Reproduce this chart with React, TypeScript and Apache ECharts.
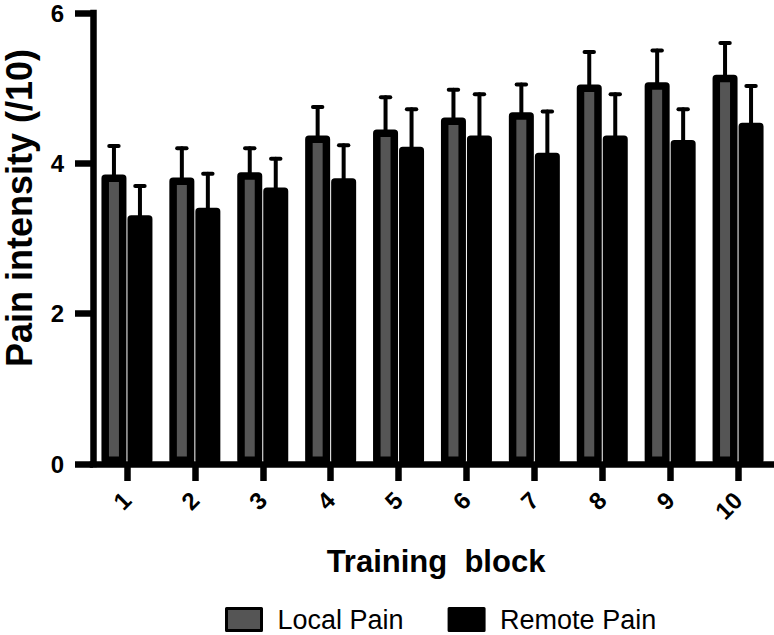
import React, { useEffect, useRef } from "react";
import * as echarts from "echarts";

const categories = ["1", "2", "3", "4", "5", "6", "7", "8", "9", "10"];
const localMean = [3.85, 3.81, 3.88, 4.37, 4.45, 4.61, 4.68, 5.05, 5.08, 5.18];
const localErr = [0.38, 0.39, 0.32, 0.38, 0.43, 0.37, 0.37, 0.43, 0.42, 0.42];
const remoteMean = [3.31, 3.41, 3.68, 3.8, 4.22, 4.37, 4.14, 4.37, 4.31, 4.54];
const remoteErr = [0.39, 0.45, 0.38, 0.44, 0.5, 0.55, 0.55, 0.55, 0.41, 0.49];
const yTicks = { min: 0, max: 6, interval: 2 };
const seriesNames = ["Local Pain", "Remote Pain"];

const FONT = "'Liberation Sans', Arial, Helvetica, sans-serif";
const BAR_W = 25;
const BORDER = 7.5;
const GAP_PX = 1;
const OFFSET = (BAR_W + GAP_PX) / 2;

function errSeries(means: number[], errs: number[], dir: number) {
  return {
    type: "custom",
    z: 5,
    silent: true,
    data: means.map((m, i) => [i, m, m + errs[i]]),
    encode: { x: 0, y: [1, 2] },
    renderItem: (params: any, api: any) => {
      const i = api.value(0);
      const base = api.coord([i, api.value(1)]);
      const top = api.coord([i, api.value(2)]);
      const x = base[0] + dir * OFFSET;
      const st = { stroke: "#000", lineWidth: 4, lineCap: "round" };
      return {
        type: "group",
        children: [
          { type: "line", shape: { x1: x, y1: base[1], x2: x, y2: top[1] }, style: st },
          { type: "line", shape: { x1: x - 4.7, y1: top[1], x2: x + 4.7, y2: top[1] }, style: st },
        ],
      };
    },
  };
}

export default function App() {
  const ref = useRef<HTMLDivElement>(null);
  useEffect(() => {
    if (!ref.current) return;
    const chart = echarts.init(ref.current, undefined, { renderer: "svg" });
    const axisLine = { show: true, lineStyle: { color: "#000", width: 6.5, cap: "square" } };
    chart.setOption({
      animation: false,
      backgroundColor: "#fff",
      grid: { left: 93, right: 2, top: 13, bottom: 171, containLabel: false },
      legend: {
        data: seriesNames,
        left: 225,
        top: 606,
        padding: 0,
        itemWidth: 35,
        itemHeight: 22,
        itemGap: 44,
        icon: "rect",
        itemStyle: { borderWidth: 3, borderColor: "#000" },
        textStyle: { fontFamily: FONT, fontSize: 27, color: "#000", padding: [0, 0, 0, 11] },
      },
      xAxis: {
        type: "category",
        data: categories,
        axisLine,
        axisTick: { show: true, alignWithLabel: true, length: 17, lineStyle: { color: "#000", width: 6.5 } },
        axisLabel: { rotate: 45, margin: 32, fontFamily: FONT, fontWeight: "bold", fontSize: 24, color: "#000" },
        splitLine: { show: false },
      },
      yAxis: {
        type: "value",
        min: yTicks.min,
        max: yTicks.max,
        interval: yTicks.interval,
        axisLine,
        axisTick: { show: true, length: 18, lineStyle: { color: "#000", width: 6.5 } },
        axisLabel: { margin: 29, fontFamily: FONT, fontWeight: "bold", fontSize: 24, color: "#000" },
        splitLine: { show: false },
      },
      graphic: [
        {
          type: "text",
          x: 19,
          y: 208,
          rotation: Math.PI / 2,
          style: {
            text: "Pain intensity (/10)",
            font: `bold 36px ${FONT}`,
            fill: "#000",
            align: "center",
            verticalAlign: "middle",
          },
        },
        {
          type: "text",
          x: 436,
          y: 561,
          style: {
            text: "Training  block",
            font: `bold 31px ${FONT}`,
            fill: "#000",
            align: "center",
            verticalAlign: "middle",
          },
        },
      ],
      series: [
        {
          name: seriesNames[0],
          type: "bar",
          data: localMean,
          barWidth: BAR_W,
          barGap: `${(GAP_PX / BAR_W) * 100}%`,
          itemStyle: { color: "#555555", borderColor: "#000", borderWidth: BORDER, borderJoin: "round" },
        },
        {
          name: seriesNames[1],
          type: "bar",
          data: remoteMean,
          barWidth: BAR_W,
          barGap: `${(GAP_PX / BAR_W) * 100}%`,
          itemStyle: { color: "#000", borderColor: "#000", borderWidth: BORDER, borderJoin: "round" },
        },
        errSeries(localMean, localErr, -1),
        errSeries(remoteMean, remoteErr, 1),
      ],
    });
    return () => chart.dispose();
  }, []);
  return (
    <div
      ref={ref}
      style={{ position: "fixed", left: 0, top: 0, width: 774, height: 635, background: "#fff" }}
    />
  );
}
